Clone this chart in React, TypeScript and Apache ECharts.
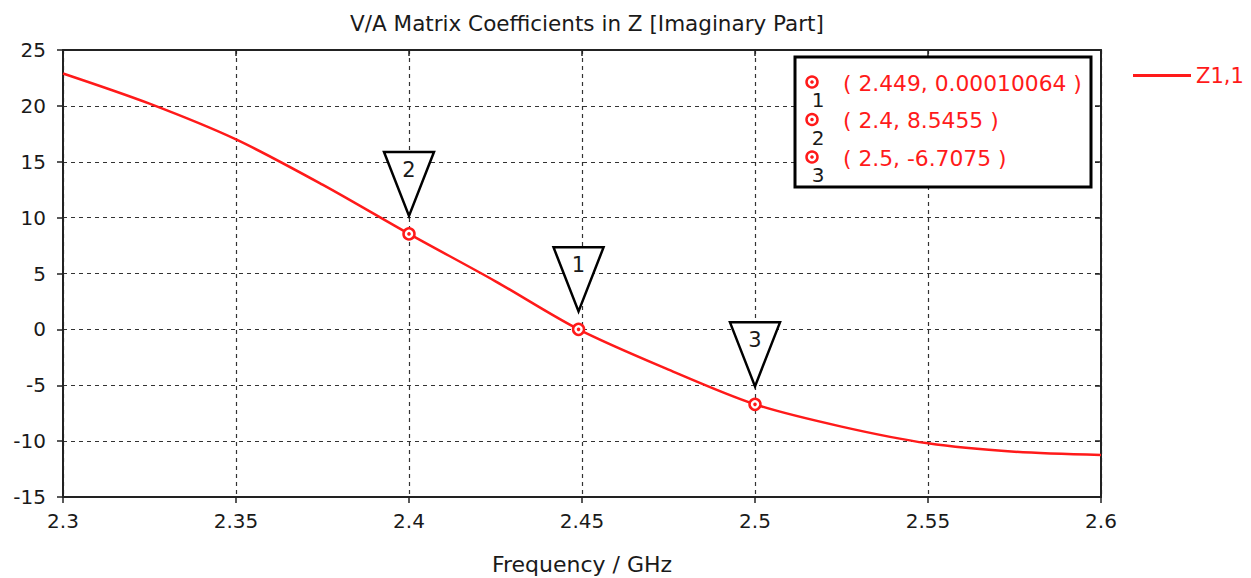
import React, { useEffect, useRef } from "react";
import * as echarts from "echarts";

const freq = [2.3, 2.325, 2.35, 2.375, 2.4, 2.425, 2.449, 2.475, 2.5, 2.525, 2.55, 2.575, 2.6];
const zImag = [22.9, 20.2, 17.0, 12.95, 8.5455, 4.3, 0.00010064, -3.6, -6.7075, -8.7, -10.2, -10.95, -11.25];
const markerIds = ["1", "2", "3"];
const markerX = [2.449, 2.4, 2.5];
const markerY = [0.00010064, 8.5455, -6.7075];
const seriesName = "Z1,1";
const titleText = "V/A Matrix Coefficients in Z [Imaginary Part]";
const xName = "Frequency / GHz";

const FONT = "DejaVu Sans";
const RED = "#ff1a1a";
const DARK = "#1a1a1a";

export default function App() {
  const ref = useRef<HTMLDivElement>(null);
  useEffect(() => {
    if (!ref.current) return;
    const chart = echarts.init(ref.current, undefined, { renderer: "svg" });
    const lineData = freq.map((f, i) => [f, zImag[i]]);
    const markerData = markerIds.map((id, i) => [markerX[i], markerY[i], id]);

    const legendChildren: any[] = [
      {
        type: "rect",
        z: 100,
        shape: { x: 795, y: 57, width: 296, height: 130 },
        style: { fill: "#fff", stroke: "#000", lineWidth: 3 },
      },
    ];
    markerIds.forEach((id, i) => {
      const cy = 82 + i * 37.5;
      legendChildren.push(
        { type: "circle", z: 101, shape: { cx: 812, cy, r: 5.5 }, style: { fill: "#fff", stroke: RED, lineWidth: 2.5 } },
        { type: "circle", z: 102, shape: { cx: 812, cy, r: 1.8 }, style: { fill: RED } },
        {
          type: "text",
          z: 101,
          style: { x: 818, y: cy + 18, text: id, fill: DARK, font: `20px '${FONT}'`, align: "center", verticalAlign: "middle" },
        },
        {
          type: "text",
          z: 101,
          style: {
            x: 843,
            y: cy + 1,
            text: `( ${markerX[i]}, ${markerY[i]} )`,
            fill: RED,
            font: `21.8px '${FONT}'`,
            align: "left",
            verticalAlign: "middle",
          },
        }
      );
    });

    const option: any = {
      animation: false,
      backgroundColor: "#fff",
      textStyle: { fontFamily: FONT },
      title: {
        text: titleText,
        left: 582,
        textAlign: "center",
        top: 7,
        textStyle: { fontFamily: FONT, fontSize: 21.5, fontWeight: "normal", color: DARK },
      },
      grid: { left: 63, top: 50, right: 150, bottom: 81, containLabel: false, outerBoundsMode: "none" },
      xAxis: [
        {
          type: "value",
          min: 2.3,
          max: 2.6,
          interval: 0.05,
          name: xName,
          nameLocation: "middle",
          nameGap: 56,
          nameTextStyle: { fontFamily: FONT, fontSize: 22, color: DARK },
          axisLine: { show: true, onZero: false, lineStyle: { color: "#222", width: 2 } },
          axisTick: { show: true, inside: false, length: 6, lineStyle: { color: "#222", width: 1.5 } },
          axisLabel: { fontFamily: FONT, fontSize: 20, color: DARK, margin: 14, formatter: (v: number) => String(+v.toFixed(2)) },
          splitLine: { show: true, lineStyle: { color: "#333", type: [4, 4], width: 1.2 } },
        },
        {
          type: "value",
          position: "top",
          min: 2.3,
          max: 2.6,
          interval: 0.05,
          axisLine: { show: true, onZero: false, lineStyle: { color: "#222", width: 2 } },
          axisTick: { show: true, inside: true, length: 6, lineStyle: { color: "#222", width: 1.5 } },
          axisLabel: { show: false },
          splitLine: { show: false },
        },
      ],
      yAxis: [
        {
          type: "value",
          min: -15,
          max: 25,
          interval: 5,
          axisLine: { show: true, onZero: false, lineStyle: { color: "#222", width: 2 } },
          axisTick: { show: true, inside: false, length: 6, lineStyle: { color: "#222", width: 1.5 } },
          axisLabel: { fontFamily: FONT, fontSize: 20, color: DARK, margin: 17 },
          splitLine: { show: true, lineStyle: { color: "#333", type: [4, 4], width: 1.2 } },
        },
        {
          type: "value",
          position: "right",
          min: -15,
          max: 25,
          interval: 5,
          axisLine: { show: true, onZero: false, lineStyle: { color: "#222", width: 2 } },
          axisTick: { show: true, inside: true, length: 6, lineStyle: { color: "#222", width: 1.5 } },
          axisLabel: { show: false },
          splitLine: { show: false },
        },
      ],
      legend: {
        show: true,
        left: 1128,
        top: 60,
        itemWidth: 58,
        itemHeight: 3,
        icon: "rect",
        itemGap: 10,
        textStyle: { fontFamily: FONT, fontSize: 21, color: RED },
        data: [seriesName],
      },
      series: [
        {
          name: seriesName,
          type: "line",
          data: lineData,
          smooth: 0.3,
          showSymbol: false,
          symbol: "none",
          lineStyle: { color: RED, width: 2.5 },
          itemStyle: { color: RED },
          z: 3,
        },
        {
          type: "custom",
          data: markerData,
          z: 5,
          renderItem: (params: any, api: any) => {
            const p = api.coord([api.value(0), api.value(1)]);
            const id = markerIds[params.dataIndex];
            return {
              type: "group",
              children: [
                {
                  type: "polygon",
                  shape: { points: [[p[0] - 25, p[1] - 82], [p[0] + 25, p[1] - 82], [p[0], p[1] - 18]] },
                  style: { fill: "#fff", stroke: "#000", lineWidth: 2.5 },
                },
                {
                  type: "text",
                  style: { x: p[0], y: p[1] - 64, text: id, fill: DARK, font: `21px '${FONT}'`, align: "center", verticalAlign: "middle" },
                },
                { type: "circle", shape: { cx: p[0], cy: p[1], r: 5.5 }, style: { fill: "#fff", stroke: RED, lineWidth: 2.5 } },
                { type: "circle", shape: { cx: p[0], cy: p[1], r: 1.8 }, style: { fill: RED } },
              ],
            };
          },
        },
      ],
      graphic: legendChildren,
    };
    chart.setOption(option);
    return () => chart.dispose();
  }, []);
  return <div ref={ref} style={{ position: "fixed", left: 0, top: 0, width: 1251, height: 578 }} />;
}
